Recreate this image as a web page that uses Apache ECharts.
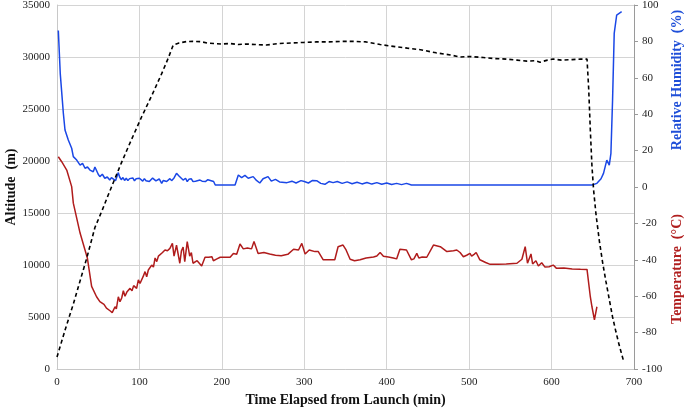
<!DOCTYPE html>
<html><head><meta charset="utf-8">
<script src="https://cdn.jsdelivr.net/npm/echarts@6/dist/echarts.min.js"></script>
<style>html,body{margin:0;padding:0;background:#fff}#c{width:684px;height:408px}</style>
</head><body><div id="c"></div>
<script>
// Altitude (m) vs time (min)
var altTime = [0,10,20,36,46,55,62,78,90,103,115,127,135,141,148,157,165,174,182,190,200,210,220,230,240,254,270,285,299,315,330,345,360,375,392,410,425,441,460,477,489,500,517,530,545,558,570,580,586,595,602,612,625,635,643,645,647,649,651,654,658,662,666,670,674,678,682,687];
var altValue = [1150,3800,6300,10640,13600,15300,16700,19800,22000,24300,26300,28400,29900,31150,31350,31480,31500,31480,31350,31300,31250,31300,31200,31250,31200,31150,31300,31350,31400,31450,31450,31500,31500,31450,31200,31000,30850,30700,30400,30200,30000,30050,29950,29850,29800,29700,29600,29650,29500,29700,29800,29700,29750,29800,29800,27000,23000,19500,17200,14800,12300,10200,8400,6700,5000,3600,2300,870];

// Relative humidity (%)
var rhTime = [1.6,4,7.7,9.7,13.7,17.8,19.8,23.9,28,31,34,37,40,44,46,48,50,52,55,58,61,64,66,68,71,74.4,76,78,80,82,84,86,88,90,92,94,96,98,100,102,104,106,108,110,112,114,116,118,120,122,124,127,129,131,133,135,137,139,142,145,148,150,153,156,158,160,163,165,168,170,173.5,176,180,183,186,190,192,200,212,216,220,224,228,232,238,242,246,250,256,260,265,270,279,285,290,296,300,305,310,315,320,325,330,335,340,346,352,358,364,370,376,382,388,394,400,406,412,418,424,430,500,600,649,655,660,663,667,670,672,674,676,679,685];
var rhValue = [86,62,40.5,31.3,25.8,21.3,16.7,14.8,12,13,10.3,11,9.3,8.4,11,10.8,7,5.7,7,4.8,5.5,3.8,5.2,4.8,3.5,7.9,5.5,4,5.2,3.6,4.8,3.5,4.6,3.8,5,3.4,4.5,3.6,4.8,4.8,3.2,4.6,3.4,4.4,3.0,3.8,4.9,4.6,3.4,3.2,4.4,2,3.6,3.8,3.0,3.2,4.6,3.5,5,7.5,6,5,3.8,4.8,3,4.2,4.5,3.0,3.2,4.2,3.8,3.2,3,4.0,3.6,3,1.1,1.1,1.1,1.1,6.6,5.2,6.4,4.8,5.7,3.6,2.2,4.5,5.7,3.2,4.2,2.8,2.4,3.2,2.2,3.5,3.0,2.2,3.6,3.5,2.0,1.5,3.0,2.4,3.0,2.0,2.8,1.8,2.6,1.7,2.5,1.6,2.4,1.5,2.2,1.4,2.0,1.3,2.0,1.1,1.1,1.1,1.1,2,4.5,7.5,14.8,12,18.5,47.8,84.4,94.5,96.3];

// Temperature (°C)
var tTime = [1.6,5.7,11.8,17.8,19.8,28,36.8,42,48,52,57,60,64.3,67,70.4,72,74.4,76.4,78.5,80.5,82.5,85,87,88.6,91,93,94.7,96.6,98.7,100.7,102.7,104.7,106.8,108.8,110.8,112.8,114.9,117,119,121,123,125,128,131,134,137,140,142,145,149,151,153,155,158,161,163,165,170,175.5,179.6,184,188,189.7,194,198,210,214,218,222,226,231,236,239,244,251,258,265,272,280,287,293,297,301,306,313,317,323,331,337,341,347,350.7,355.6,361,367.7,375,384,388,392,396,402,408,412,416,424,430,433,436.5,439,443,448.6,456.7,465,473,481,485,489,493,497,501,503,506,508.5,513,520,525.5,535,545,558,564,568,570.8,575,577,581,584,588,592,597,602,606,615,625,635,643,647,649,652,655];
var tValue = [16.6,13.9,9.3,0.2,-8.9,-25.3,-39,-54.6,-60.3,-63,-64.5,-66.6,-68,-69,-65.8,-67,-60.3,-63,-61,-57,-60,-57.5,-58.5,-55.7,-57,-54.2,-54.8,-55.7,-51,-53,-52,-49,-46.5,-49.3,-45.6,-46.5,-42.9,-44,-39,-41,-38,-37.4,-36,-34.6,-35,-33.7,-31,-38,-32,-41.9,-35,-33,-41,-30,-38,-36,-41.9,-40.5,-43.4,-38.6,-38.6,-38.3,-40.5,-39.5,-38.6,-38.6,-36.5,-37,-31.3,-34,-33.5,-34,-30,-36.5,-36,-36.8,-37.5,-37.8,-37,-34.2,-34.6,-31,-36.8,-34.6,-35.5,-35.5,-40,-40,-40,-32.8,-31.9,-34.6,-39.7,-40.5,-40,-39,-38.5,-37.9,-36,-38,-38.5,-39,-39.5,-34.2,-34.6,-40,-39.5,-36.5,-39,-38.5,-38.6,-31.9,-32.8,-35.5,-35,-34.6,-36,-38.3,-37.5,-36.5,-38,-37,-36,-40,-41.5,-42.5,-42.5,-42.3,-41.9,-39.7,-32.8,-41.9,-36.8,-42.3,-40.5,-43.4,-41.6,-44,-43.8,-42.9,-44.7,-44.5,-45,-45.2,-45.3,-60.3,-65.8,-73,-65.8];

// Axis ticks
var altTicks = {min: 0, max: 35000, interval: 5000};
var rightTicks = {min: -100, max: 100, interval: 20};
var xTicks = {min: 0, max: 700, interval: 100};

function zip(a, b) { return a.map(function (v, i) { return [v, b[i]]; }); }
function plain(v) { return String(v); }

var FONT = '"Liberation Serif", "DejaVu Serif", serif';
var chart = echarts.init(document.getElementById('c'), null, {renderer: 'canvas'});
chart.setOption({
  animation: false,
  backgroundColor: '#ffffff',
  grid: {left: 57, right: 50, top: 5, bottom: 39, containLabel: false, outerBoundsMode: 'none'},
  xAxis: {
    type: 'value', min: xTicks.min, max: xTicks.max, interval: xTicks.interval,
    name: 'Time Elapsed from Launch (min)', nameLocation: 'middle', nameGap: 21,
    nameTextStyle: {fontFamily: FONT, fontWeight: 'bold', fontSize: 14, color: '#111'},
    axisLine: {show: true, lineStyle: {color: '#c8c8c8'}},
    axisTick: {show: false},
    axisLabel: {fontFamily: FONT, fontSize: 11, color: '#222', margin: 8, formatter: plain},
    splitLine: {show: true, lineStyle: {color: '#d4d4d4', width: 1}}
  },
  yAxis: [{
    type: 'value', position: 'left', min: altTicks.min, max: altTicks.max, interval: altTicks.interval,
    axisLine: {show: true, lineStyle: {color: '#c8c8c8'}},
    axisTick: {show: false},
    axisLabel: {fontFamily: FONT, fontSize: 11, color: '#222', margin: 7, formatter: plain},
    splitLine: {show: true, lineStyle: {color: '#d4d4d4', width: 1}}
  }, {
    type: 'value', position: 'right', min: rightTicks.min, max: rightTicks.max, interval: rightTicks.interval,
    axisLine: {show: true, lineStyle: {color: '#9a9a9a'}},
    axisTick: {show: true, length: 4, lineStyle: {color: '#9a9a9a'}},
    axisLabel: {fontFamily: FONT, fontSize: 11, color: '#222', margin: 8, formatter: plain},
    splitLine: {show: false}
  }],
  graphic: [{
    type: 'text', x: 11, y: 187, rotation: Math.PI / 2,
    style: {text: 'Altitude  (m)', fill: '#111', font: 'bold 14px ' + FONT, textAlign: 'center', textVerticalAlign: 'middle'}
  }, {
    type: 'text', x: 677, y: 80, rotation: Math.PI / 2,
    style: {text: 'Relative Humidity  (%)', fill: '#1f4fd8', font: 'bold 14px ' + FONT, textAlign: 'center', textVerticalAlign: 'middle'}
  }, {
    type: 'text', x: 677, y: 269, rotation: Math.PI / 2,
    style: {text: 'Temperature  (°C)', fill: '#b01e1e', font: 'bold 14px ' + FONT, textAlign: 'center', textVerticalAlign: 'middle'}
  }],
  series: [{
    name: 'Altitude', type: 'line', yAxisIndex: 0, data: zip(altTime, altValue),
    showSymbol: false, smooth: false,
    lineStyle: {color: '#000', width: 1.6, type: [4, 3]}, z: 3
  }, {
    name: 'Relative Humidity', type: 'line', yAxisIndex: 1, data: zip(rhTime, rhValue),
    showSymbol: false, lineStyle: {color: '#1a47e6', width: 1.5}, z: 2
  }, {
    name: 'Temperature', type: 'line', yAxisIndex: 1, data: zip(tTime, tValue),
    showSymbol: false, lineStyle: {color: '#b01c1c', width: 1.5}, z: 2
  }]
});
</script></body></html>
